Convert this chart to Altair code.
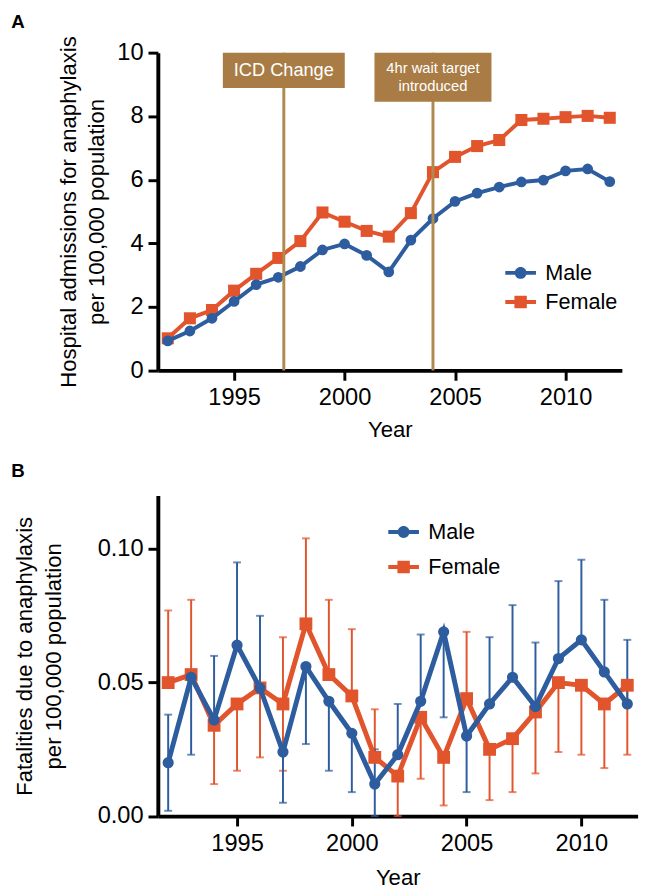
import altair as alt
import pandas as pd

# ---------------- data ----------------
years = list(range(1992, 2013))

# Panel A: hospital admissions per 100,000
adm_male = [0.93, 1.24, 1.64, 2.17, 2.70, 2.93, 3.27, 3.79, 3.98, 3.62, 3.10,
            4.10, 4.78, 5.32, 5.58, 5.77, 5.93, 5.99, 6.28, 6.34, 5.94]
adm_female = [1.01, 1.64, 1.90, 2.51, 3.04, 3.54, 4.07, 4.97, 4.68, 4.39, 4.21,
              4.95, 6.24, 6.72, 7.06, 7.25, 7.88, 7.92, 7.97, 8.01, 7.95]

# Panel B: fatalities per 100,000 with visible error-bar extents
fat_male = [0.020, 0.052, 0.036, 0.064, 0.048, 0.024, 0.056, 0.043, 0.031, 0.012, 0.023,
            0.043, 0.069, 0.030, 0.042, 0.052, 0.041, 0.059, 0.066, 0.054, 0.042]
fat_male_low = [0.002, 0.023, 0.036, 0.064, 0.048, 0.005, 0.027, 0.017, 0.009, 0.000, 0.023,
                0.043, 0.037, 0.009, 0.042, 0.052, 0.041, 0.059, 0.066, 0.054, 0.042]
fat_male_high = [0.038, 0.052, 0.060, 0.095, 0.075, 0.024, 0.056, 0.043, 0.031, 0.025, 0.042,
                 0.068, 0.069, 0.030, 0.067, 0.079, 0.065, 0.088, 0.096, 0.081, 0.066]
fat_female = [0.050, 0.053, 0.034, 0.042, 0.048, 0.042, 0.072, 0.053, 0.045, 0.022, 0.015,
              0.037, 0.022, 0.044, 0.025, 0.029, 0.039, 0.050, 0.049, 0.042, 0.049]
fat_female_low = [0.050, 0.053, 0.012, 0.017, 0.022, 0.017, 0.072, 0.053, 0.045, 0.022, 0.000,
                  0.014, 0.004, 0.044, 0.006, 0.009, 0.016, 0.024, 0.023, 0.018, 0.023]
fat_female_high = [0.077, 0.081, 0.034, 0.042, 0.048, 0.067, 0.104, 0.081, 0.070, 0.040, 0.015,
                   0.037, 0.022, 0.069, 0.025, 0.029, 0.039, 0.050, 0.049, 0.042, 0.049]

series = ["Male", "Female"]
event_labels = ["ICD Change", "4hr wait target\nintroduced"]
event_years = [1997.25, 2004.0]
panel_labels = ["A", "B"]

x_ticks = [1995, 2000, 2005, 2010]
a_y_ticks = [0, 2, 4, 6, 8, 10]
b_y_ticks = [0.0, 0.05, 0.10]

# ---------------- style ----------------
BLUE = "#2D5D9E"
ORANGE = "#E1542C"
BROWN = "#A97C45"
FONT = "Liberation Sans"
K = 1.0173          # global size factor


def k(v):
    return round(v * K, 2)


dfA = pd.DataFrame({
    "year": years * 2,
    "value": adm_male + adm_female,
    "sex": ["Male"] * len(years) + ["Female"] * len(years),
})
dfB = pd.DataFrame({
    "year": years * 2,
    "value": fat_male + fat_female,
    "low": fat_male_low + fat_female_low,
    "high": fat_male_high + fat_female_high,
    "sex": ["Male"] * len(years) + ["Female"] * len(years),
})

color_scale = alt.Scale(domain=series, range=[BLUE, ORANGE])
# legend glyphs: a line with the marker on it
MALE_SYM = "M-2.6,-0.33H2.6V0.33H-2.6Z M1,0A1,1,0,1,1,-1,0A1,1,0,1,1,1,0Z"
FEMALE_SYM = "M-2.6,-0.33H2.6V0.33H-2.6Z M-1.05,-1.05H1.05V1.05H-1.05Z"
shape_scale = alt.Scale(domain=series, range=[MALE_SYM, FEMALE_SYM])


def make_legend(lx, ly, row_pad):
    return alt.Legend(
        title=None, orient="none", legendX=k(lx), legendY=k(ly),
        labelFontSize=k(22), labelFont=FONT, labelColor="black",
        symbolSize=k(k(144)), labelOffset=k(14), rowPadding=k(row_pad),
        symbolStrokeWidth=0, symbolOpacity=1,
    )


def legend_layer(base, x, y, leg):
    return base.mark_point(filled=True, opacity=0, size=k(k(144))).encode(
        x=x, y=y,
        color=alt.Color("sex:N", scale=color_scale, legend=leg),
        shape=alt.Shape("sex:N", scale=shape_scale, legend=leg),
    )


def axis_common(**kw):
    base = dict(domainColor="black", domainWidth=k(4), tickColor="black", tickWidth=k(3),
                tickSize=k(10), labelFontSize=k(24), labelFont=FONT, labelColor="black",
                titleFontSize=k(22.5), titleFont=FONT, titleFontWeight="normal",
                titleColor="black", grid=False, labelPadding=k(5))
    base.update(kw)
    return alt.Axis(**base)


# ---------------- Panel A ----------------
legA = make_legend(358, 213, 7)
scale_xA = alt.Scale(domain=[1991.55, 2012.55], nice=False, zero=False)
scale_yA = alt.Scale(domain=[0, 10], nice=False)
axis_xA = axis_common(values=x_ticks, format="d", title="Year",
                      labelPadding=k(6), titlePadding=k(11))
axis_yA = axis_common(values=a_y_ticks,
                      title=["Hospital admissions for anaphylaxis", "per 100,000 population"],
                      titleX=k(-84), titleBaseline="alphabetic", titleLineHeight=k(29))
xA = alt.X("year:Q", scale=scale_xA, axis=axis_xA)
yA = alt.Y("value:Q", scale=scale_yA, axis=axis_yA)

baseA = alt.Chart(dfA)
layersA = [legend_layer(baseA, xA, yA, legA)]
for s, col, shape, size in [("Female", ORANGE, "square", 150), ("Male", BLUE, "circle", 120)]:
    sub = baseA.transform_filter(alt.datum.sex == s)
    layersA.append(sub.mark_line(strokeWidth=k(4), color=col).encode(x=xA, y=yA))
    layersA.append(sub.mark_point(shape=shape, size=k(k(size)), filled=True, opacity=1,
                                  color=col).encode(x=xA, y=yA))

events = pd.DataFrame({"label": event_labels, "year": event_years})
ev = alt.Chart(events)
xE = alt.X("year:Q", scale=scale_xA, axis=axis_xA)
rules = ev.mark_rule(color="#B0894F", strokeWidth=k(3)).encode(
    x=xE, y=alt.datum(0), y2=alt.datum(10))
box1 = ev.transform_filter(alt.datum.year < 2000).mark_rect(
    color=BROWN, width=k(124), height=k(36), yOffset=k(18)).encode(x=xE, y=alt.datum(10))
box2 = ev.transform_filter(alt.datum.year > 2000).mark_rect(
    color=BROWN, width=k(119), height=k(50), yOffset=k(25)).encode(x=xE, y=alt.datum(10))
txt1 = ev.transform_filter(alt.datum.year < 2000).mark_text(
    color="white", font=FONT, fontSize=k(18.5), baseline="middle", yOffset=k(18)).encode(
    x=xE, y=alt.datum(10), text="label:N")
txt2 = ev.transform_filter(alt.datum.year > 2000).mark_text(
    color="white", font=FONT, fontSize=k(15), baseline="middle", yOffset=k(15.5),
    lineBreak="\n", lineHeight=k(19)).encode(
    x=xE, y=alt.datum(10), text="label:N")

labA = alt.Chart(pd.DataFrame({"t": [panel_labels[0]]})).mark_text(
    font=FONT, fontSize=k(19), fontWeight="bold", align="left", baseline="alphabetic",
    color="black").encode(x=alt.value(k(-149)), y=alt.value(k(-25)), text="t:N")

chartA = alt.layer(*layersA, rules, box1, box2, txt1, txt2, labA).properties(
    width=k(472), height=k(316) + 7.3)

# ---------------- Panel B ----------------
legB = make_legend(239, 26, 13)
scale_xB = alt.Scale(domain=[1991.55, 2012.45], nice=False, zero=False)
scale_yB = alt.Scale(domain=[0, 0.12], nice=False)
axis_xB = axis_common(values=x_ticks, format="d", title="Year",
                      labelPadding=k(6), titlePadding=k(13))
axis_yB = axis_common(values=b_y_ticks, format=".2f",
                      title=["Fatalities due to anaphylaxis", "per 100,000 population"],
                      titleX=k(-128), titleBaseline="alphabetic", titleLineHeight=k(29))
xB = alt.X("year:Q", scale=scale_xB, axis=axis_xB)
yB = alt.Y("value:Q", scale=scale_yB, axis=axis_yB)

baseB = alt.Chart(dfB)
layersB = [legend_layer(baseB, xB, yB, legB)]
for s, col in [("Female", ORANGE), ("Male", BLUE)]:
    sub = baseB.transform_filter(alt.datum.sex == s)
    layersB.append(sub.mark_errorbar(
        ticks={"size": k(8), "thickness": k(2)}, thickness=k(2), color=col).encode(
        x=xB, y=alt.Y("low:Q", scale=scale_yB, axis=axis_yB), y2="high:Q"))
for s, col, shape, size in [("Female", ORANGE, "square", 170), ("Male", BLUE, "circle", 130)]:
    sub = baseB.transform_filter(alt.datum.sex == s)
    layersB.append(sub.mark_line(strokeWidth=k(5), color=col).encode(x=xB, y=yB))
    layersB.append(sub.mark_point(shape=shape, size=k(k(size)), filled=True, opacity=1,
                                  color=col).encode(x=xB, y=yB))

labB = alt.Chart(pd.DataFrame({"t": [panel_labels[1]]})).mark_text(
    font=FONT, fontSize=k(19), fontWeight="bold", align="left", baseline="alphabetic",
    color="black").encode(x=alt.value(k(-149)), y=alt.value(k(-19)), text="t:N")

chartB = alt.layer(*layersB, labB).properties(width=k(488), height=k(326))

chart = alt.vconcat(chartA, chartB, spacing=k(20)).resolve_scale(
    color="independent", shape="independent").properties(
    padding={"left": k(3), "top": k(-3) - 7.3, "right": 0, "bottom": 0}
).configure_view(stroke=None)

chart.save("out.html", embed_options={"renderer": "svg", "actions": False})
